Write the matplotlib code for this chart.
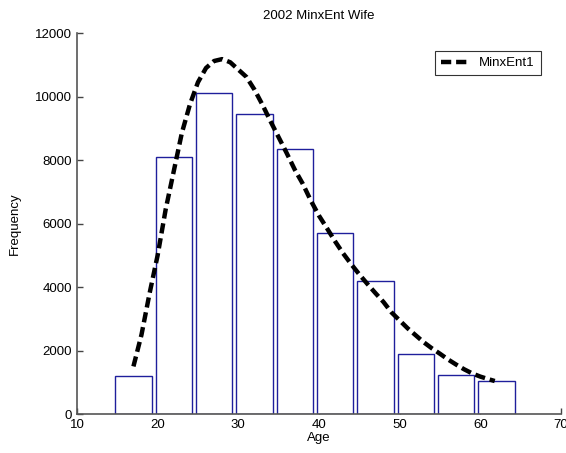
import matplotlib
matplotlib.use("Agg")
import matplotlib.pyplot as plt

plt.rcParams['font.family'] = ['Liberation Sans', 'DejaVu Sans']

# Histogram bars (bin centers and counts)
bin_centers = [17, 22, 27, 32, 37, 42, 47, 52, 57, 62]
counts = [1200, 8100, 10100, 9450, 8350, 5700, 4180, 1900, 1230, 1050]

# MinxEnt1 fitted curve
curve_age = [17, 18, 19, 20, 21, 22, 23, 24, 25, 26, 27, 28, 29, 30, 31, 32, 33,
             34, 35, 36, 37, 38, 39, 40, 41, 42, 43, 44, 45, 46, 47, 48, 49, 50,
             51, 52, 53, 54, 55, 56, 57, 58, 59, 60, 61, 61.8]
curve_freq = [1500, 2500, 3800, 5000, 6450, 7650, 8850, 9750, 10450, 10900, 11120,
              11180, 11080, 10850, 10620, 10220, 9740, 9220, 8720, 8220, 7700, 7250,
              6720, 6250, 5850, 5440, 5060, 4720, 4400, 4100, 3810, 3530, 3200, 2950,
              2700, 2480, 2260, 2070, 1900, 1720, 1560, 1410, 1280, 1180, 1100, 1040]

xticks = [10, 20, 30, 40, 50, 60, 70]
yticks = [0, 2000, 4000, 6000, 8000, 10000, 12000]

fig = plt.figure(figsize=(5.66, 4.53), dpi=100)
ax = fig.add_axes([0.136, 0.086, 0.855, 0.841])

ax.bar(bin_centers, counts, width=4.5, facecolor='white', edgecolor='#1f1f9c',
       linewidth=1.0, zorder=2)
line, = ax.plot(curve_age, curve_freq, color='black', linewidth=3.2,
                label='MinxEnt1', zorder=3)
line.set_dashes((2.3, 1.1))

ax.set_xlim(10, 70)
ax.set_ylim(0, 12000)
ax.set_xticks(xticks)
ax.set_yticks(yticks)
ax.tick_params(direction='in', length=4, width=1, colors='#444444', labelsize=9.5,
               labelcolor='black')
for s in ['top', 'right']:
    ax.spines[s].set_visible(False)
for s in ['left', 'bottom']:
    ax.spines[s].set_color('#555555')
    ax.spines[s].set_linewidth(1.2)

ax.set_title('2002 MinxEnt Wife', fontsize=9.5, pad=10)
ax.set_xlabel('Age', fontsize=9.5, labelpad=1)
ax.set_ylabel('Frequency', fontsize=9.5, labelpad=10)

leg = ax.legend(loc='upper right', bbox_to_anchor=(0.972, 0.97), fontsize=9.5,
                frameon=True, fancybox=False, handlelength=2.2, borderpad=0.45,
                handletextpad=0.7)
leg.get_frame().set_edgecolor('black')
leg.get_frame().set_linewidth(0.8)

fig.savefig('out.png', dpi=100)
